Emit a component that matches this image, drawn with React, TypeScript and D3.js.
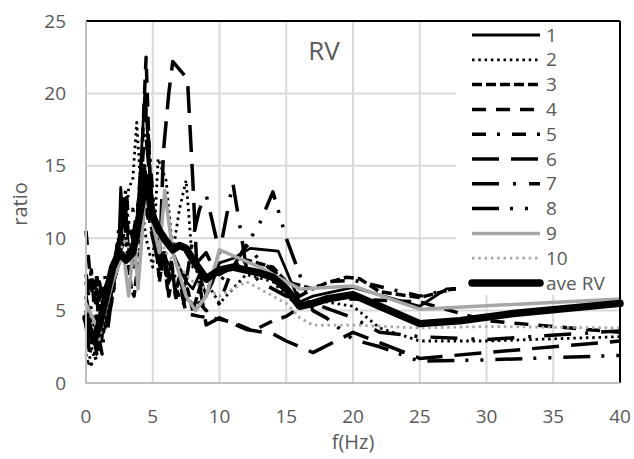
import React from "react";
import * as d3 from "d3";

type P = [number, number];

const xTicks = [0, 5, 10, 15, 20, 25, 30, 35, 40];
const yTicks = [0, 5, 10, 15, 20, 25];
const seriesNames = ["1", "2", "3", "4", "5", "6", "7", "8", "9", "10", "ave RV"];

const s1: P[] = [[0,5.5],[0.2,4],[0.4,2.8],[0.6,3.5],[0.8,2.5],[1,4.5],[1.2,3],[1.4,5],[1.6,4],[1.8,6.5],[2,7],[2.2,9],[2.4,8],[2.6,13.5],[2.8,11],[3,12],[3.2,9],[3.4,8.5],[3.6,8],[3.8,11],[4.1,15],[4.4,20],[4.7,16],[5,12],[5.5,10.5],[6,10],[6.5,9],[7,8],[7.5,7],[8,6.5],[8.5,7.5],[9,6],[9.5,7],[10,8.3],[11,8.6],[12.3,9.3],[14.4,9.1],[16,5.6],[17,6],[20,6.6],[25,5.3],[27,6.5],[40,7]];
const s2: P[] = [[0,2],[0.2,1.2],[0.4,2.5],[0.6,1.8],[0.8,3.5],[1,2.5],[1.2,4],[1.4,3.5],[1.6,5.5],[1.8,5],[2,7],[2.2,8],[2.4,10],[2.6,9],[2.8,12.5],[3,11],[3.2,13.5],[3.5,14],[3.8,18],[4.2,12],[4.5,10],[5,8],[5.4,15.5],[6,14],[6.5,9],[7,12],[7.5,14],[8,8],[9,7],[10,5.5],[11,6.5],[12,7.5],[14,7],[15,6],[16,5.3],[18,5.6],[20,5.3],[22,3.8],[25,2.9],[30,2.9],[40,3.2]];
const s3: P[] = [[0,7.5],[0.2,6.5],[0.4,7.8],[0.6,5.5],[0.8,7.5],[1,6],[1.2,4.5],[1.4,6.5],[1.6,7],[1.8,5.5],[2,6],[2.2,7.5],[2.4,8],[2.6,10.5],[2.8,12],[3,10],[3.2,8],[3.4,6.5],[3.6,6],[3.8,7.5],[4,9],[4.4,15],[4.8,11],[5.2,10],[5.5,7],[5.8,9],[6.1,6.5],[6.4,8.5],[6.7,6],[7,7.5],[7.3,5.5],[7.6,6.5],[8,5],[8.5,6.5],[9,7],[10,7.5],[12,8.5],[14,8],[15,7],[17,6.5],[18,6.9],[19.5,7.3],[20.5,7.2],[22,6.3],[25,5.9],[27.5,6.5],[40,7.2]];
const s4: P[] = [[0,10.5],[0.15,9],[0.3,7.5],[0.5,6],[0.7,7],[0.9,5],[1.1,4.5],[1.3,3.5],[1.5,5],[1.7,6],[1.9,5.5],[2.1,7],[2.3,8.5],[2.6,10],[2.8,13],[3,12],[3.2,10],[3.4,9],[3.6,10.5],[3.8,11],[4.2,16],[4.5,22.5],[4.8,14],[5.2,10],[5.6,8],[5.9,9],[6.2,7],[6.5,7.5],[6.8,6],[7.1,6.5],[7.5,4.8],[8.5,4.6],[10,4.4],[11,4.2],[12.5,3.6],[14,4.3],[15,4.6],[16,5.2],[18,5.8],[20,5.8],[25,5.6],[30,4.3],[40,3.5]];
const s5: P[] = [[0,7],[0.2,6],[0.4,5],[0.6,4],[0.8,6.5],[1,5.5],[1.2,4],[1.4,5],[1.6,6],[1.8,7.5],[2,7],[2.2,8.5],[2.5,11],[2.8,12],[3,13.5],[3.2,11],[3.5,10],[4,12],[4.5,19],[5,13],[5.3,10],[5.6,7.5],[5.9,9],[6.2,6],[6.5,7.5],[6.8,5.5],[7.1,7],[7.5,5.5],[8,6],[9,5],[10,5.5],[11,8],[12,9.5],[13,8.5],[15,7],[16,6],[18,7],[20,7.1],[25,6],[27.5,6.5],[40,7]];
const s6: P[] = [[0,5],[0.2,3.8],[0.4,2.5],[0.6,3.2],[0.8,2],[1,4],[1.2,3.5],[1.5,6],[1.8,5],[2,7.5],[2.5,9],[3,10],[3.5,9],[4,11],[4.5,12],[5,10],[5.5,8],[5.8,16],[6.2,20],[6.5,22.2],[7.6,21],[8,14],[8.3,8],[9,4],[10,4.5],[12,3.7],[14,3.4],[15,2.9],[17,2.1],[20,3.5],[25,1.7],[40,2.9]];
const s7: P[] = [[0,6],[0.2,5],[0.4,4],[0.6,2.5],[0.8,4.5],[1,7],[1.2,6],[1.4,7.5],[1.6,6],[1.8,7],[2,8],[2.5,10],[3,12],[3.5,10],[4,13],[4.5,17],[5,12],[5.5,9],[6,8],[6.5,7],[7,6],[7.5,7],[8,10],[8.5,12],[9,13],[9.5,11],[10,9],[11,13.8],[11.5,11],[12,8],[13,7],[15,6],[17,5.5],[20,4.5],[22,3.5],[25,3.2],[30,3.0],[40,3.6]];
const s8: P[] = [[0,4],[0.2,2.5],[0.4,1.3],[0.6,2],[0.8,1.5],[1,3],[1.2,2],[1.4,4],[1.6,3.5],[1.8,5],[2,6],[2.5,9],[3,11],[3.5,12],[4,10],[4.5,14],[5,11],[5.5,9],[6,8.5],[6.5,7.5],[7,7],[8,8],[9,9],[10,7],[11,8],[12,9.5],[13,11],[14,13.2],[15,10],[16,7.5],[17,5],[18,4.5],[20,3],[22,2.5],[25,1.5],[30,1.6],[40,1.9]];
const s9: P[] = [[0,5.5],[0.5,4.5],[1,3.5],[2,7],[2.8,9],[3.2,6],[3.6,10],[3.9,6.5],[4.5,14],[5,11],[5.5,9],[5.9,13.3],[6.5,9],[7.5,6],[8.2,5],[9,6],[10,9.2],[13,8],[16,6.5],[20,6.7],[25,5.1],[40,5.8]];
const s10: P[] = [[0,5],[0.5,4],[1,3],[1.5,5],[2,7],[2.5,9],[3,10],[3.5,8],[4,9],[4.5,13],[5,11],[5.5,10],[6,9],[7,8],[8,7],[9,6.5],[10,6],[11,6.5],[12,7],[13,6.5],[14,6],[15,5.5],[16,4.5],[17,4],[20,4],[25,3.8],[30,3.9],[40,3.8]];
const ave: P[] = [[0,4.5],[0.3,3.5],[0.6,3],[1,4],[1.5,6],[2,8],[2.5,9],[3,8.5],[3.5,9],[4,11.5],[4.5,14.2],[5,11.5],[5.5,10.5],[6,9.8],[6.5,9.2],[7,9.5],[7.5,9.3],[8,8.5],[9,7.2],[10,7.8],[11,8],[12,7.8],[13,7.6],[14,7.3],[15,6.5],[16,5.3],[17,5.5],[18,5.8],[20,6.1],[22,5.3],[25,4.1],[28,4.3],[32,4.8],[40,5.5]];

const allSeries = [s1, s2, s3, s4, s5, s6, s7, s8, s9, s10, ave];

const styles = [
  { stroke: "#000", w: 2.8, dash: "" },
  { stroke: "#000", w: 2.8, dash: "2.5 3.8" },
  { stroke: "#000", w: 3.5, dash: "10 4" },
  { stroke: "#000", w: 3.5, dash: "14 10" },
  { stroke: "#000", w: 3.5, dash: "14 11 3 12" },
  { stroke: "#000", w: 3.5, dash: "27 12" },
  { stroke: "#000", w: 3.5, dash: "27 14 3 13" },
  { stroke: "#000", w: 3.5, dash: "27 11 3 12 3 12" },
  { stroke: "#a6a6a6", w: 3.5, dash: "" },
  { stroke: "#a6a6a6", w: 2.8, dash: "2.5 3.8" },
  { stroke: "#000", w: 7.5, dash: "" },
];

const L = 86, R = 620, T = 21, B = 383;
const FONT = "'Open Sans', sans-serif";
const TXT = "#595959";

export default function App() {
  const x = d3.scaleLinear().domain([0, 40]).range([L, R]);
  const y = d3.scaleLinear().domain([0, 25]).range([B, T]);
  const line = d3.line<P>().x(d => x(d[0])).y(d => y(d[1]));
  const legX0 = 472, legX1 = 540, legY0 = 35, legStep = 24.8;
  return (
    <div style={{ position: "absolute", left: 0, top: 0 }}>
      <svg width={634} height={459} style={{ display: "block", background: "#fff" }}>
        {xTicks.slice(1, -1).map(t => (
          <line key={"gx" + t} x1={x(t)} x2={x(t)} y1={T} y2={B} stroke="#d9d9d9" strokeWidth={2} />
        ))}
        {yTicks.slice(1, -1).map(t => (
          <line key={"gy" + t} x1={L} x2={R} y1={y(t)} y2={y(t)} stroke="#d9d9d9" strokeWidth={2} />
        ))}
        {allSeries.map((s, i) => (
          <path key={"s" + i} d={line(s) || ""} fill="none" stroke={styles[i].stroke}
            strokeWidth={styles[i].w} strokeDasharray={styles[i].dash || undefined}
            strokeLinejoin="round" strokeLinecap={i === 10 ? "round" : "butt"} />
        ))}
        <line x1={L} x2={R} y1={T} y2={T} stroke="#000" strokeWidth={2} />
        <line x1={R} x2={R} y1={T} y2={B} stroke="#000" strokeWidth={2} />
        <line x1={L} x2={L} y1={T} y2={B + 1} stroke="#bfbfbf" strokeWidth={2} />
        <line x1={L} x2={R} y1={B} y2={B} stroke="#bfbfbf" strokeWidth={2} />
        <rect x={456} y={22} width={163} height={273} fill="#fff" />
        {seriesNames.map((n, i) => {
          const yy = legY0 + i * legStep;
          return (
            <g key={"lg" + i}>
              <line x1={legX0} x2={legX1} y1={yy} y2={yy} stroke={styles[i].stroke}
                strokeWidth={styles[i].w} strokeDasharray={styles[i].dash || undefined}
                strokeLinecap={i === 10 ? "round" : "butt"} />
              <text x={546} y={yy} dy="0.35em" fontFamily={FONT} fontSize={19} fill={TXT}>{n}</text>
            </g>
          );
        })}
        {yTicks.map(t => (
          <text key={"yt" + t} x={66} y={y(t)} dy="0.35em" textAnchor="end" fontFamily={FONT} fontSize={19} fill={TXT}>{t}</text>
        ))}
        {xTicks.map(t => (
          <text key={"xt" + t} x={x(t)} y={416} dy="0.35em" textAnchor="middle" fontFamily={FONT} fontSize={19} fill={TXT}>{t}</text>
        ))}
        <text x={353} y={449} textAnchor="middle" fontFamily={FONT} fontSize={20} fill={TXT}>f(Hz)</text>
        <text transform="translate(27,204) rotate(-90)" textAnchor="middle" fontFamily={FONT} fontSize={20} fill={TXT}>ratio</text>
        <text x={324} y={60} textAnchor="middle" fontFamily={FONT} fontSize={26} fill={TXT}>RV</text>
      </svg>
    </div>
  );
}
